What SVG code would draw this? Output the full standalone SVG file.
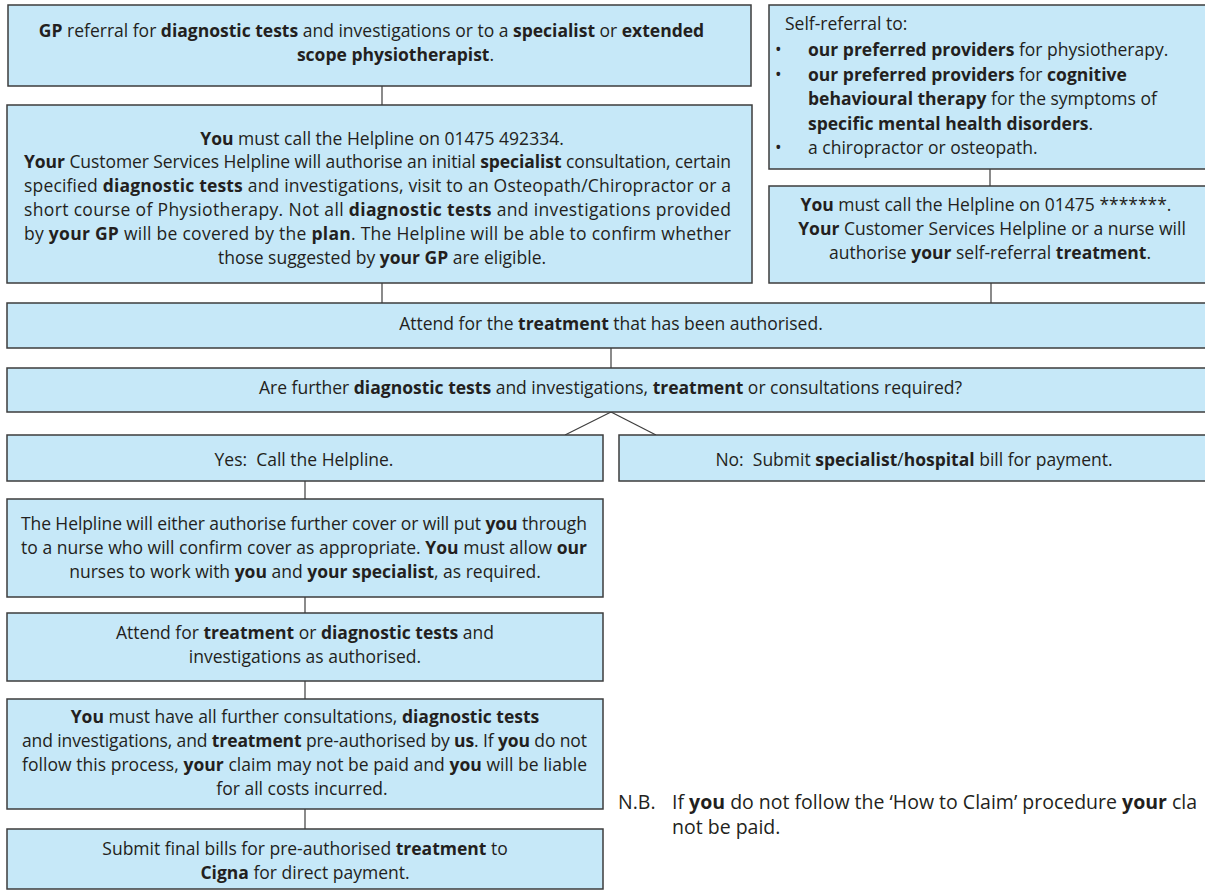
<svg xmlns="http://www.w3.org/2000/svg" width="1205" height="894" viewBox="0 0 1205 894">
<style>
.box{fill:#c6e8f8;stroke:#3d3d3d;stroke-width:1.5}
.t{font-family:"Open Sans","Noto Sans",sans-serif;font-size:17.5px;fill:#231f20}
.c{text-anchor:middle}
.b{font-weight:bold}
.nb{font-size:19.5px}
.con line{stroke:#3d3d3d;stroke-width:1.2}
</style>
<rect width="1205" height="894" fill="#ffffff"/>
<g class="con">
<line x1="382" y1="86" x2="382" y2="105"/>
<line x1="990" y1="169" x2="990" y2="186"/>
<line x1="382" y1="283" x2="382" y2="303"/>
<line x1="991" y1="283" x2="991" y2="303"/>
<line x1="611" y1="348" x2="611" y2="368"/>
<line x1="611" y1="412" x2="565" y2="435"/>
<line x1="611" y1="412" x2="656" y2="435"/>
<line x1="305" y1="481" x2="305" y2="499"/>
<line x1="305" y1="597" x2="305" y2="613"/>
<line x1="305" y1="681" x2="305" y2="699"/>
<line x1="305" y1="809" x2="305" y2="829"/>
</g>
<g id="n1">
<rect class="box" x="8" y="5" width="743" height="81"/>
<text class="t c" x="371.5" y="37"><tspan class="b">GP</tspan> referral for <tspan class="b">diagnostic tests</tspan> and investigations or to a <tspan class="b">specialist</tspan> or <tspan class="b">extended</tspan></text>
<text class="t c b" x="395.5" y="61">scope physiotherapist<tspan font-weight="normal">.</tspan></text>
</g>
<g id="n2">
<rect class="box" x="7" y="105" width="745" height="178"/>
<text class="t c" x="382" y="145"><tspan class="b">You</tspan> must call the Helpline on 01475 492334.</text>
<text class="t" x="24" y="168" textLength="707" lengthAdjust="spacing"><tspan class="b">Your</tspan> Customer Services Helpline will authorise an initial <tspan class="b">specialist</tspan> consultation, certain</text>
<text class="t" x="24" y="192" textLength="707" lengthAdjust="spacing">specified <tspan class="b">diagnostic tests</tspan> and investigations, visit to an Osteopath/Chiropractor or a</text>
<text class="t" x="24" y="216" textLength="707" lengthAdjust="spacing">short course of Physiotherapy. Not all <tspan class="b">diagnostic tests</tspan> and investigations provided</text>
<text class="t" x="24" y="240" textLength="707" lengthAdjust="spacing">by <tspan class="b">your GP</tspan> will be covered by the <tspan class="b">plan</tspan>. The Helpline will be able to confirm whether</text>
<text class="t c" x="382" y="264">those suggested by <tspan class="b">your GP</tspan> are eligible.</text>
</g>
<g id="n3">
<rect class="box" x="769" y="5" width="445" height="164"/>
<text class="t" x="785" y="30">Self-referral to:</text>
<text class="t" x="775" y="56" font-size="12">•</text>
<text class="t" x="808" y="56"><tspan class="b">our preferred providers</tspan> for physiotherapy.</text>
<text class="t" x="775" y="80.5" font-size="12">•</text>
<text class="t" x="808" y="80.5"><tspan class="b">our preferred providers</tspan> for <tspan class="b">cognitive</tspan></text>
<text class="t" x="808" y="105"><tspan class="b">behavioural therapy</tspan> for the symptoms of</text>
<text class="t" x="808" y="129.5"><tspan class="b">specific mental health disorders</tspan>.</text>
<text class="t" x="775" y="154" font-size="12">•</text>
<text class="t" x="808" y="154">a chiropractor or osteopath.</text>
</g>
<g id="n4">
<rect class="box" x="769" y="186" width="445" height="97"/>
<text class="t c" x="986" y="211"><tspan class="b">You</tspan> must call the Helpline on 01475 *******.</text>
<text class="t c" x="992" y="235"><tspan class="b">Your</tspan> Customer Services Helpline or a nurse will</text>
<text class="t c" x="990" y="259">authorise <tspan class="b">your</tspan> self-referral <tspan class="b">treatment</tspan>.</text>
</g>
<g id="n5">
<rect class="box" x="7" y="303" width="1212" height="45"/>
<text class="t c" x="611" y="330">Attend for the <tspan class="b">treatment</tspan> that has been authorised.</text>
</g>
<g id="n6">
<rect class="box" x="7" y="368" width="1212" height="44"/>
<text class="t c" x="610.5" y="394">Are further <tspan class="b">diagnostic tests</tspan> and investigations, <tspan class="b">treatment</tspan> or consultations required?</text>
</g>
<g id="n7">
<rect class="box" x="7" y="435" width="596" height="46"/>
<text class="t c" x="304" y="466">Yes:&#160; Call the Helpline.</text>
</g>
<g id="n8">
<rect class="box" x="619" y="435" width="600" height="46"/>
<text class="t c" x="914" y="466">No:&#160; Submit <tspan class="b">specialist</tspan>/<tspan class="b">hospital</tspan> bill for payment.</text>
</g>
<g id="n9">
<rect class="box" x="7" y="499" width="596" height="98"/>
<text class="t" x="21" y="530" textLength="566" lengthAdjust="spacing">The Helpline will either authorise further cover or will put <tspan class="b">you</tspan> through</text>
<text class="t" x="21" y="554" textLength="566" lengthAdjust="spacing">to a nurse who will confirm cover as appropriate. <tspan class="b">You</tspan> must allow <tspan class="b">our</tspan></text>
<text class="t c" x="305" y="578">nurses to work with <tspan class="b">you</tspan> and <tspan class="b">your specialist</tspan>, as required.</text>
</g>
<g id="n10">
<rect class="box" x="7" y="613" width="596" height="68"/>
<text class="t c" x="305" y="639">Attend for <tspan class="b">treatment</tspan> or <tspan class="b">diagnostic tests</tspan> and</text>
<text class="t c" x="305" y="663">investigations as authorised.</text>
</g>
<g id="n11">
<rect class="box" x="7" y="699" width="596" height="110"/>
<text class="t c" x="305" y="723"><tspan class="b">You</tspan> must have all further consultations, <tspan class="b">diagnostic tests</tspan></text>
<text class="t" x="22" y="747" textLength="565" lengthAdjust="spacing">and investigations, and <tspan class="b">treatment</tspan> pre-authorised by <tspan class="b">us</tspan>. If <tspan class="b">you</tspan> do not</text>
<text class="t" x="22" y="771" textLength="565" lengthAdjust="spacing">follow this process, <tspan class="b">your</tspan> claim may not be paid and <tspan class="b">you</tspan> will be liable</text>
<text class="t c" x="302" y="795">for all costs incurred.</text>
</g>
<g id="n12">
<rect class="box" x="7" y="829" width="596" height="60"/>
<text class="t c" x="305" y="855">Submit final bills for pre-authorised <tspan class="b">treatment</tspan> to</text>
<text class="t c" x="305" y="879"><tspan class="b">Cigna</tspan> for direct payment.</text>
</g>
<g id="nb">
<text class="t nb" x="618" y="809">N.B.</text>
<text class="t nb" x="672" y="809">If <tspan class="b">you</tspan> do not follow the ‘How to Claim’ procedure <tspan class="b">your</tspan> cla</text>
<text class="t nb" x="672" y="834">not be paid.</text>
</g>
</svg>
